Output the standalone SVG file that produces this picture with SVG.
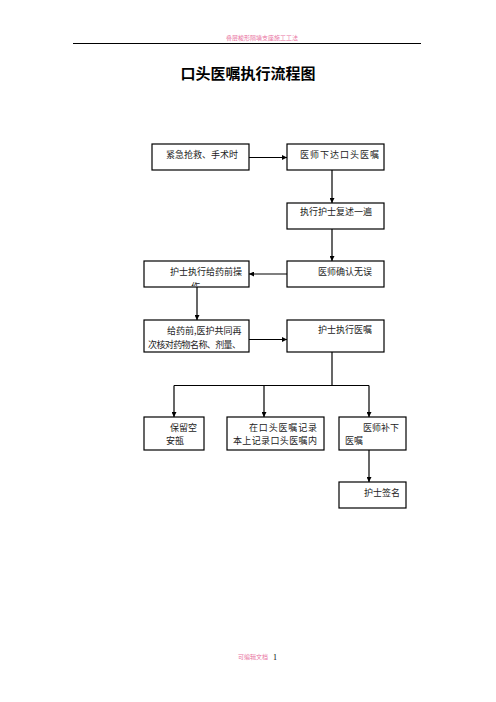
<svg xmlns="http://www.w3.org/2000/svg" width="496" height="702" viewBox="0 0 496 702">
<style>
.box{fill:#fff;stroke:#000;stroke-width:1.2}
.t{font-family:"Noto Sans CJK SC","Noto Sans",sans-serif;font-size:9px;fill:#222}
.c{stroke:#000;stroke-width:1.2;fill:none}
.pink{font-family:"Noto Sans CJK SC",sans-serif;font-size:6px;fill:#e9739f}
</style>
<defs>
<marker id="ah" viewBox="0 0 10 10" refX="10" refY="5" markerWidth="5" markerHeight="5" orient="auto" markerUnits="userSpaceOnUse">
<path d="M0,0 L10,5 L0,10 z" fill="#000"/>
</marker>
<clipPath id="clipA"><rect x="144" y="261" width="105" height="25"/></clipPath>
</defs>
<rect width="496" height="702" fill="#fff"/>
<g id="header">
<text class="pink" x="262" y="40" text-anchor="middle">叠层梭形隔墙支座施工工法</text>
<line x1="73" y1="43.5" x2="421" y2="43.5" stroke="#000" stroke-width="1"/>
</g>
<g id="title">
<text x="248" y="79" text-anchor="middle" font-family="'Noto Sans CJK SC',sans-serif" font-size="15" font-weight="bold" fill="#000">口头医嘱执行流程图</text>
</g>
<g id="connectors">
<line class="c" x1="249" y1="157.5" x2="287" y2="157.5" marker-end="url(#ah)"/>
<line class="c" x1="332" y1="170" x2="332" y2="203" marker-end="url(#ah)"/>
<line class="c" x1="332" y1="229" x2="332" y2="261" marker-end="url(#ah)"/>
<line class="c" x1="287" y1="274" x2="249" y2="274" marker-end="url(#ah)"/>
<line class="c" x1="197" y1="287" x2="197" y2="320" marker-end="url(#ah)"/>
<line class="c" x1="249" y1="339.5" x2="287" y2="339.5" marker-end="url(#ah)"/>
<polyline class="c" points="332,352 332,385.5"/>
<line class="c" x1="174" y1="385.5" x2="369" y2="385.5"/>
<line class="c" x1="174" y1="385.5" x2="174" y2="417" marker-end="url(#ah)"/>
<line class="c" x1="264" y1="385.5" x2="264" y2="417" marker-end="url(#ah)"/>
<line class="c" x1="369" y1="385.5" x2="369" y2="417" marker-end="url(#ah)"/>
<line class="c" x1="369" y1="450" x2="369" y2="482" marker-end="url(#ah)"/>
</g>
<g id="n1"><rect class="box" x="152" y="144" width="97" height="26"/><text class="t" x="166" y="157.5">紧急抢救、手术时</text></g>
<g id="n2"><rect class="box" x="287" y="144" width="97" height="26"/><text class="t" x="300" y="157.5" textLength="79">医师下达口头医嘱</text></g>
<g id="n3"><rect class="box" x="287" y="203" width="97" height="26"/><text class="t" x="300" y="215">执行护士复述一遍</text></g>
<g id="n4"><rect class="box" x="287" y="261" width="97" height="26"/><text class="t" x="318" y="274.5">医师确认无误</text></g>
<g id="n5"><rect class="box" x="144" y="261" width="105" height="26"/><text class="t" x="170" y="275">护士执行给药前操</text><text class="t" x="191" y="290" clip-path="url(#clipA)">作</text></g>
<g id="n6"><rect class="box" x="144" y="320" width="105" height="32"/><text class="t" x="167" y="333.5">给药前,医护共同再</text><text class="t" x="148" y="347.5" textLength="93">次核对药物名称、剂量、</text></g>
<g id="n7"><rect class="box" x="287" y="320" width="97" height="32"/><text class="t" x="318" y="332.5">护士执行医嘱</text></g>
<g id="n8"><rect class="box" x="144" y="417" width="60" height="33"/><text class="t" x="170" y="430.5">保留空</text><text class="t" x="166" y="444">安瓿</text></g>
<g id="n9"><rect class="box" x="227" y="417" width="97" height="33"/><text class="t" x="249" y="430.5" textLength="68">在口头医嘱记录</text><text class="t" x="233" y="444" textLength="84">本上记录口头医嘱内</text></g>
<g id="n10"><rect class="box" x="339" y="417" width="67" height="33"/><text class="t" x="363" y="430.5" textLength="36">医师补下</text><text class="t" x="345" y="444">医嘱</text></g>
<g id="n11"><rect class="box" x="339" y="482" width="67" height="26"/><text class="t" x="364" y="496">护士签名</text></g>
<g id="footer">
<text class="pink" x="253" y="659" text-anchor="middle">可编辑文档</text>
<text x="273" y="659.5" font-family="'Liberation Serif',serif" font-size="8" fill="#000">1</text>
</g>
</svg>
